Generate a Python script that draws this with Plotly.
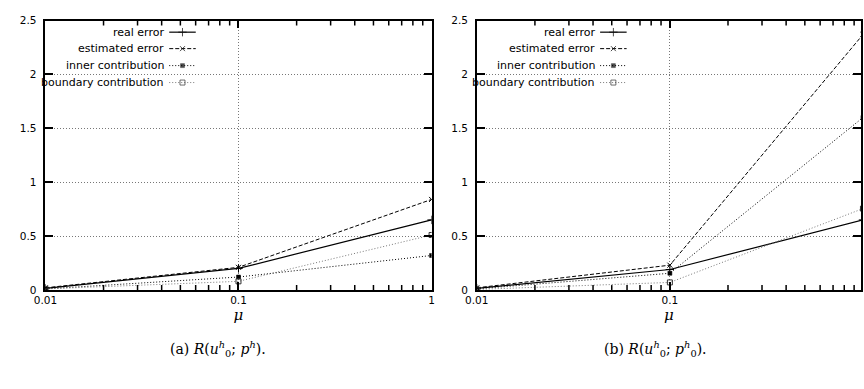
import plotly.graph_objects as go

# mu sample points shared by both studies
mu = [0.01, 0.1, 1.0]

# (a) R(u0h; ph)
real_a = [0.015, 0.20, 0.65]
est_a = [0.02, 0.21, 0.84]
inner_a = [0.01, 0.12, 0.32]
bnd_a = [0.01, 0.08, 0.51]

# (b) R(u0h; p0h)
real_b = [0.015, 0.19, 0.65]
est_b = [0.02, 0.23, 2.37]
inner_b = [0.01, 0.155, 1.60]
bnd_b = [0.005, 0.07, 0.755]

series_names = ["real error", "estimated error", "inner contribution", "boundary contribution"]
y_ticks = [0, 0.5, 1, 1.5, 2, 2.5]
y_tick_text = ["0", "0.5", "1", "1.5", "2", "2.5"]
x_ticks = [0.01, 0.1, 1]
x_tick_text = ["0.01", "0.1", "1"]
x_minor = [k * 0.01 for k in range(2, 10)] + [k * 0.1 for k in range(2, 10)]

W, H = 864, 389
TICK_FONT = dict(family="DejaVu Sans", size=10.5, color="black")
PLOT_TOP, PLOT_BOTTOM = 15, 293

styles = [
    dict(line=dict(color="black", width=1.2, dash="solid"),
         marker=dict(symbol="cross-thin", size=6, color="black", line=dict(width=1, color="black"))),
    dict(line=dict(color="black", width=1.0, dash="4px,2px"),
         marker=dict(symbol="x-thin", size=5, color="black", line=dict(width=1, color="black"))),
    dict(line=dict(color="black", width=1.0, dash="1px,2px"),
         marker=dict(symbol="square", size=4, color="black", line=dict(width=0.5, color="black"))),
    dict(line=dict(color="#777777", width=1.0, dash="1px,2px"),
         marker=dict(symbol="square-open", size=5, color="#333333", line=dict(width=1, color="#333333"))),
]


def px_x(p):
    return p / W


def px_y(p):
    return 1 - p / H


fig = go.Figure()

panels = [
    ("x", "y", [real_a, est_a, inner_a, bnd_a]),
    ("x2", "y2", [real_b, est_b, inner_b, bnd_b]),
]
for xa, ya, data in panels:
    for name, vals, st in zip(series_names, data, styles):
        fig.add_trace(go.Scatter(
            x=mu, y=vals, mode="lines+markers", name=name,
            line=st["line"], marker=st["marker"],
            xaxis=xa, yaxis=ya, showlegend=False, hoverinfo="skip",
        ))

# inward minor ticks on the bottom and top borders (2..9 of each decade)
plot_h = PLOT_BOTTOM - PLOT_TOP
minor_len = 5 / plot_h
for xa, ya in (("x", "y"), ("x2", "y2")):
    for v in x_minor:
        for y0, y1 in ((0, minor_len), (1 - minor_len, 1)):
            fig.add_shape(type="line", xref=xa, yref=f"{ya} domain",
                          x0=v, x1=v, y0=y0, y1=y1, layer="above",
                          line=dict(color="black", width=1.5))

# key drawn in the gnuplot style: right-aligned label, sample to its right
key_rows = [27, 44, 61.5, 79]
for text_right in (157, 595.5):
    s0, s1 = text_right + 3, text_right + 30
    for name, st, ry in zip(series_names, styles, key_rows):
        fig.add_annotation(
            x=px_x(text_right), y=px_y(ry), xref="paper", yref="paper",
            text=name, showarrow=False, xanchor="right", yanchor="middle",
            font=dict(family="DejaVu Sans", size=11, color="black"),
        )
        mk = dict(st["marker"])
        fig.add_trace(go.Scatter(
            x=[s0, (s0 + s1) / 2, s1], y=[ry, ry, ry], mode="lines+markers",
            line=st["line"], marker=dict(mk, size=[0, mk["size"], 0]),
            xaxis="x3", yaxis="y3", showlegend=False, hoverinfo="skip", cliponaxis=False,
        ))

common_x = dict(
    type="log", tickmode="array", tickvals=x_ticks, ticktext=x_tick_text, tickfont=TICK_FONT,
    ticks="inside", ticklen=8, tickwidth=1.5, tickcolor="black",
    showline=True, linecolor="black", linewidth=1.5, mirror="allticks",
    showgrid=True, gridcolor="#777777", griddash="1px,2px", gridwidth=1,
    zeroline=False, ticklabelstandoff=0,
    title=dict(text="<i>μ</i>", font=dict(family="DejaVu Serif", size=15, color="black"), standoff=2),
    fixedrange=True,
)
common_y = dict(
    range=[0, 2.5], tickvals=y_ticks, ticktext=y_tick_text, tickfont=TICK_FONT,
    ticks="inside", ticklen=8, tickwidth=1.5, tickcolor="black",
    showline=True, linecolor="black", linewidth=1.5, mirror="allticks",
    showgrid=True, gridcolor="#777777", griddash="1px,2px", gridwidth=1,
    zeroline=False, ticklabelstandoff=5, fixedrange=True,
)

y_dom = [(H - PLOT_BOTTOM) / H, (H - PLOT_TOP) / H]
decade = (427 - 34) / 2

fig.update_layout(
    width=W, height=H, margin=dict(l=0, r=0, t=0, b=0),
    paper_bgcolor="white", plot_bgcolor="rgba(0,0,0,0)",
    xaxis=dict(common_x, domain=[34 / W, 427 / W], range=[-2, 0], anchor="y"),
    yaxis=dict(common_y, domain=y_dom, anchor="x"),
    xaxis2=dict(common_x, domain=[473 / W, 1.0], range=[-2, -2 + (W - 473) / decade], anchor="y2"),
    yaxis2=dict(common_y, domain=y_dom, anchor="x2"),
    xaxis3=dict(domain=[0, 1], range=[0, W], visible=False, anchor="y3", fixedrange=True),
    yaxis3=dict(domain=[0, 1], range=[H, 0], visible=False, anchor="x3", fixedrange=True),
    showlegend=False,
)

captions = [
    (210, "(a) <i>R</i>(<i>u</i><sup><i>h</i></sup><sub>0</sub>; <i>p</i><sup><i>h</i></sup>)."),
    (655, "(b) <i>R</i>(<i>u</i><sup><i>h</i></sup><sub>0</sub>; <i>p</i><sup><i>h</i></sup><sub>0</sub>)."),
]
for cx, txt in captions:
    fig.add_annotation(
        x=px_x(cx), y=px_y(354), xref="paper", yref="paper", text=txt,
        showarrow=False, xanchor="center", yanchor="middle",
        font=dict(family="DejaVu Serif", size=14, color="black"),
    )

fig.write_html("out.html")
